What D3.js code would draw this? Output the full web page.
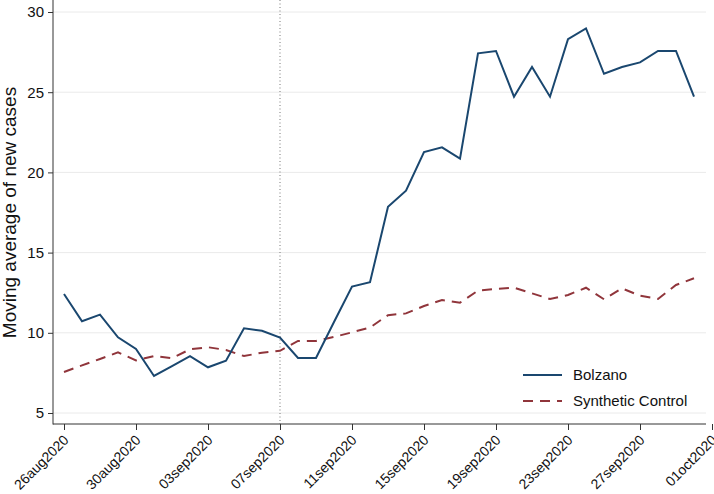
<!DOCTYPE html>
<html lang="en">
    <head>
        <title>Bolzano vs Synthetic Control</title>
        <script src="https://d3js.org/d3.v7.min.js"></script>
        <style>
            body { margin: 0; background: #fff; }
            text { font-family: "Liberation Sans", Arial, sans-serif; fill: #111; }
        </style>
    </head>
    <body>
    <div id="mainDiv"></div>

        <script type="text/javascript">
            const width = 714
            const height = 494

            // daily series, 26aug2020 .. 30sep2020
            const startDate = '2020-08-26'
            const bolzano = [12.42, 10.72, 11.13, 9.72, 8.99, 7.31, 7.93, 8.55, 7.85, 8.26,
                10.28, 10.13, 9.70, 8.43, 8.43, 10.67, 12.88, 13.15, 17.86, 18.86,
                21.27, 21.56, 20.86, 27.42, 27.57, 24.72, 26.57, 24.72, 28.30, 28.98,
                26.15, 26.57, 26.86, 27.57, 27.57, 24.72]
            const synthetic = [7.56, 7.97, 8.37, 8.78, 8.28, 8.55, 8.41, 8.97, 9.10, 8.93,
                8.55, 8.76, 8.88, 9.49, 9.49, 9.74, 10.03, 10.33, 11.10, 11.21,
                11.67, 12.04, 11.88, 12.63, 12.73, 12.81, 12.46, 12.11, 12.36, 12.81,
                12.09, 12.77, 12.31, 12.11, 12.98, 13.40]
            const xTicks = ['2020-08-26', '2020-08-30', '2020-09-03', '2020-09-07', '2020-09-11',
                '2020-09-15', '2020-09-19', '2020-09-23', '2020-09-27', '2020-10-01']
            const yTicks = [5, 10, 15, 20, 25, 30]
            const treatDate = '2020-09-07'
            const seriesNames = ['Bolzano', 'Synthetic Control']

            const parse = d3.utcParse('%Y-%m-%d')
            const fmt = d => d3.utcFormat('%d%b%Y')(d).toLowerCase()
            const day0 = parse(startDate)
            const dates = bolzano.map((_, i) => d3.utcDay.offset(day0, i))

            const plot = { left: 53, right: 706, top: 0, bottom: 424 }

            const svg = d3.select('#mainDiv').append('svg')
                .attr('width', width)
                .attr('height', height)

            const xScale = d3.scaleUtc()
                .domain([parse('2020-08-26'), parse('2020-10-01')])
                .range([64, 712])

            const yScale = d3.scaleLinear()
                .domain([5, 30])
                .range([413, 12])

            // gridlines
            svg.append('g')
                .selectAll('line')
                .data(yTicks)
                .enter()
                .append('line')
                .attr('x1', plot.left)
                .attr('x2', plot.right)
                .attr('y1', d => yScale(d))
                .attr('y2', d => yScale(d))
                .style('stroke', '#eaeaea')
                .style('stroke-width', 1)

            // treatment line
            svg.append('line')
                .attr('x1', xScale(parse(treatDate)))
                .attr('x2', xScale(parse(treatDate)))
                .attr('y1', plot.top)
                .attr('y2', plot.bottom)
                .style('stroke', '#777')
                .style('stroke-width', 1)
                .style('stroke-dasharray', '1,2.5')

            // axes
            const yAxis = d3.axisLeft(yScale)
                .tickValues(yTicks)
                .tickSize(5)
                .tickPadding(4)
            const yG = svg.append('g')
                .attr('transform', `translate(${plot.left},0)`)
                .call(yAxis)
            yG.select('.domain').remove()
            yG.selectAll('text').style('font-size', '15px')
            yG.selectAll('line').style('stroke', '#333')

            const xAxis = d3.axisBottom(xScale)
                .tickValues(xTicks.map(parse))
                .tickFormat(fmt)
                .tickSize(6)
            const xG = svg.append('g')
                .attr('transform', `translate(0,${plot.bottom})`)
                .call(xAxis)
            xG.select('.domain').remove()
            xG.selectAll('line').style('stroke', '#333')
            xG.selectAll('text')
                .style('font-size', '14px')
                .style('text-anchor', 'end')
                .attr('dy', 0)
                .attr('transform', 'translate(5,17) rotate(-45)')
                .attr('y', 0)
                .attr('x', 0)

            svg.append('line')
                .attr('x1', plot.left).attr('x2', plot.left)
                .attr('y1', plot.top).attr('y2', plot.bottom + 0.5)
                .style('stroke', '#333')
            svg.append('line')
                .attr('x1', plot.left).attr('x2', plot.right)
                .attr('y1', plot.bottom).attr('y2', plot.bottom)
                .style('stroke', '#333')

            svg.append('text')
                .attr('transform', `translate(16,${(yScale(5) + yScale(30)) / 2}) rotate(-90)`)
                .style('text-anchor', 'middle')
                .style('font-size', '19px')
                .text('Moving average of new cases')

            // series
            const line = d3.line()
                .x((d, i) => xScale(dates[i]))
                .y(d => yScale(d))

            svg.append('path')
                .datum(synthetic)
                .attr('d', line)
                .style('fill', 'none')
                .style('stroke', '#90353b')
                .style('stroke-width', 2)
                .style('stroke-dasharray', '10,7')

            svg.append('path')
                .datum(bolzano)
                .attr('d', line)
                .style('fill', 'none')
                .style('stroke', '#1a476f')
                .style('stroke-width', 2)

            // legend
            const legend = svg.append('g')
            const legendStyles = [
                { color: '#1a476f', dash: null },
                { color: '#90353b', dash: '10,7' }
            ]
            seriesNames.forEach((name, i) => {
                const y = 375 + i * 26
                legend.append('line')
                    .attr('x1', 523).attr('x2', 562)
                    .attr('y1', y).attr('y2', y)
                    .style('stroke', legendStyles[i].color)
                    .style('stroke-width', 2)
                    .style('stroke-dasharray', legendStyles[i].dash)
                legend.append('text')
                    .attr('x', 573)
                    .attr('y', y)
                    .attr('dy', '0.35em')
                    .style('font-size', '15px')
                    .text(name)
            })
        </script>
    </body>
</html>
